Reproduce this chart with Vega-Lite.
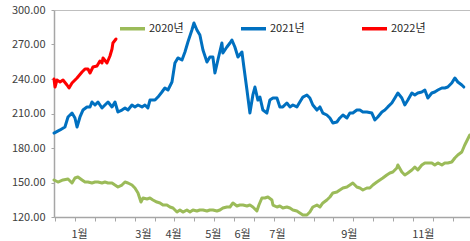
{
"$schema": "https://vega.github.io/schema/vega-lite/v6.json",
"width": 416, "height": 207,
"autosize": {"type": "none"},
"padding": {"left": 54, "top": 10, "right": 0, "bottom": 24},
"background": "white",
"config": {"view": {"stroke": null}, "font": "Noto Sans CJK KR"},
"data": {"values": [
{"s":"2020년","d":0,"v":152.2},{"s":"2020년","d":3.5,"v":150.4},{"s":"2020년","d":7.9,"v":152.2},{"s":"2020년","d":12.3,"v":153.0},{"s":"2020년","d":15.8,"v":149.6},{"s":"2020년","d":18.4,"v":153.9},{"s":"2020년","d":21.0,"v":154.8},{"s":"2020년","d":24.6,"v":152.2},{"s":"2020년","d":27.2,"v":150.4},{"s":"2020년","d":29.8,"v":150.4},{"s":"2020년","d":33.3,"v":149.6},{"s":"2020년","d":36.0,"v":150.4},{"s":"2020년","d":38.6,"v":150.4},{"s":"2020년","d":42.1,"v":149.6},{"s":"2020년","d":44.7,"v":150.4},{"s":"2020년","d":47.4,"v":149.6},{"s":"2020년","d":50.9,"v":149.6},{"s":"2020년","d":53.5,"v":147.8},{"s":"2020년","d":56.1,"v":146.1},{"s":"2020년","d":59.6,"v":147.8},{"s":"2020년","d":62.3,"v":150.4},{"s":"2020년","d":64.9,"v":149.6},{"s":"2020년","d":68.4,"v":147.8},{"s":"2020년","d":71.0,"v":145.2},{"s":"2020년","d":73.7,"v":140.9},{"s":"2020년","d":76.3,"v":133.0},{"s":"2020년","d":78.1,"v":136.5},{"s":"2020년","d":81.6,"v":135.7},{"s":"2020년","d":84.2,"v":136.5},{"s":"2020년","d":86.8,"v":134.8},{"s":"2020년","d":90.3,"v":133.0},{"s":"2020년","d":93.0,"v":132.2},{"s":"2020년","d":95.6,"v":130.4},{"s":"2020년","d":99.1,"v":130.4},{"s":"2020년","d":101.7,"v":128.7},{"s":"2020년","d":104.4,"v":127.8},{"s":"2020년","d":107.9,"v":124.3},{"s":"2020년","d":110.5,"v":126.1},{"s":"2020년","d":113.1,"v":124.3},{"s":"2020년","d":116.6,"v":126.1},{"s":"2020년","d":119.3,"v":124.3},{"s":"2020년","d":121.9,"v":126.1},{"s":"2020년","d":125.4,"v":125.2},{"s":"2020년","d":128.0,"v":126.1},{"s":"2020년","d":130.7,"v":126.1},{"s":"2020년","d":134.2,"v":125.2},{"s":"2020년","d":136.8,"v":126.1},{"s":"2020년","d":139.4,"v":126.1},{"s":"2020년","d":143.0,"v":125.2},{"s":"2020년","d":145.6,"v":126.1},{"s":"2020년","d":148.2,"v":127.8},{"s":"2020년","d":151.7,"v":128.7},{"s":"2020년","d":154.4,"v":128.7},{"s":"2020년","d":157.0,"v":132.2},{"s":"2020년","d":160.5,"v":129.6},{"s":"2020년","d":163.1,"v":130.4},{"s":"2020년","d":165.8,"v":130.4},{"s":"2020년","d":169.3,"v":129.6},{"s":"2020년","d":171.9,"v":130.4},{"s":"2020년","d":174.5,"v":128.7},{"s":"2020년","d":178.0,"v":125.2},{"s":"2020년","d":179.8,"v":130.4},{"s":"2020년","d":182.4,"v":136.5},{"s":"2020년","d":185.0,"v":136.5},{"s":"2020년","d":187.7,"v":137.4},{"s":"2020년","d":191.2,"v":134.8},{"s":"2020년","d":192.1,"v":130.4},{"s":"2020년","d":195.6,"v":128.7},{"s":"2020년","d":198.2,"v":129.6},{"s":"2020년","d":200.8,"v":127.8},{"s":"2020년","d":204.3,"v":128.7},{"s":"2020년","d":207.0,"v":127.8},{"s":"2020년","d":209.6,"v":126.1},{"s":"2020년","d":213.1,"v":125.2},{"s":"2020년","d":215.7,"v":123.5},{"s":"2020년","d":218.4,"v":121.7},{"s":"2020년","d":221.9,"v":121.7},{"s":"2020년","d":224.5,"v":124.3},{"s":"2020년","d":227.1,"v":128.7},{"s":"2020년","d":230.7,"v":130.4},{"s":"2020년","d":233.3,"v":128.7},{"s":"2020년","d":235.9,"v":132.2},{"s":"2020년","d":239.4,"v":134.8},{"s":"2020년","d":242.1,"v":137.4},{"s":"2020년","d":244.7,"v":140.9},{"s":"2020년","d":248.2,"v":141.7},{"s":"2020년","d":250.8,"v":143.5},{"s":"2020년","d":253.5,"v":145.2},{"s":"2020년","d":257.0,"v":146.1},{"s":"2020년","d":259.6,"v":147.8},{"s":"2020년","d":262.2,"v":149.6},{"s":"2020년","d":265.7,"v":146.1},{"s":"2020년","d":268.4,"v":145.2},{"s":"2020년","d":271.0,"v":143.5},{"s":"2020년","d":274.5,"v":145.2},{"s":"2020년","d":277.1,"v":145.2},{"s":"2020년","d":279.8,"v":147.8},{"s":"2020년","d":283.3,"v":150.4},{"s":"2020년","d":285.9,"v":152.2},{"s":"2020년","d":288.5,"v":153.9},{"s":"2020년","d":292.0,"v":156.5},{"s":"2020년","d":294.7,"v":158.3},{"s":"2020년","d":297.3,"v":159.1},{"s":"2020년","d":300.8,"v":162.6},{"s":"2020년","d":301.7,"v":165.2},{"s":"2020년","d":305.2,"v":159.1},{"s":"2020년","d":307.8,"v":156.5},{"s":"2020년","d":310.5,"v":158.3},{"s":"2020년","d":314.0,"v":160.9},{"s":"2020년","d":316.6,"v":163.5},{"s":"2020년","d":319.2,"v":160.9},{"s":"2020년","d":322.7,"v":165.2},{"s":"2020년","d":325.4,"v":167.0},{"s":"2020년","d":328.0,"v":167.0},{"s":"2020년","d":331.5,"v":167.0},{"s":"2020년","d":334.1,"v":165.2},{"s":"2020년","d":336.8,"v":167.0},{"s":"2020년","d":340.3,"v":165.2},{"s":"2020년","d":342.9,"v":167.0},{"s":"2020년","d":345.5,"v":167.0},{"s":"2020년","d":349.0,"v":167.8},{"s":"2020년","d":351.7,"v":171.3},{"s":"2020년","d":354.3,"v":173.9},{"s":"2020년","d":357.8,"v":176.5},{"s":"2020년","d":360.4,"v":182.6},{"s":"2020년","d":364.8,"v":191.3},
{"s":"2021년","d":0,"v":193.0},{"s":"2021년","d":5.3,"v":195.7},{"s":"2021년","d":9.6,"v":198.3},{"s":"2021년","d":12.3,"v":207.0},{"s":"2021년","d":15.8,"v":210.4},{"s":"2021년","d":18.4,"v":206.1},{"s":"2021년","d":20.2,"v":198.3},{"s":"2021년","d":22.8,"v":207.0},{"s":"2021년","d":25.4,"v":213.0},{"s":"2021년","d":28.9,"v":215.7},{"s":"2021년","d":31.6,"v":215.7},{"s":"2021년","d":33.3,"v":220.0},{"s":"2021년","d":36.0,"v":217.4},{"s":"2021년","d":38.6,"v":220.0},{"s":"2021년","d":42.1,"v":214.8},{"s":"2021년","d":44.7,"v":217.4},{"s":"2021년","d":47.4,"v":220.0},{"s":"2021년","d":50.9,"v":215.7},{"s":"2021년","d":53.5,"v":220.0},{"s":"2021년","d":56.1,"v":211.3},{"s":"2021년","d":59.6,"v":213.0},{"s":"2021년","d":62.3,"v":214.8},{"s":"2021년","d":64.9,"v":213.0},{"s":"2021년","d":68.4,"v":217.4},{"s":"2021년","d":71.0,"v":215.7},{"s":"2021년","d":73.7,"v":217.4},{"s":"2021년","d":77.2,"v":215.7},{"s":"2021년","d":79.8,"v":217.4},{"s":"2021년","d":82.4,"v":214.8},{"s":"2021년","d":84.2,"v":221.7},{"s":"2021년","d":88.6,"v":221.7},{"s":"2021년","d":91.2,"v":224.3},{"s":"2021년","d":94.7,"v":228.7},{"s":"2021년","d":97.3,"v":232.2},{"s":"2021년","d":100.0,"v":230.4},{"s":"2021년","d":103.5,"v":237.4},{"s":"2021년","d":106.1,"v":253.9},{"s":"2021년","d":108.7,"v":258.3},{"s":"2021년","d":112.3,"v":256.5},{"s":"2021년","d":114.9,"v":263.5},{"s":"2021년","d":117.5,"v":272.2},{"s":"2021년","d":121.0,"v":282.6},{"s":"2021년","d":122.8,"v":288.7},{"s":"2021년","d":125.4,"v":282.6},{"s":"2021년","d":128.0,"v":278.3},{"s":"2021년","d":130.7,"v":265.2},{"s":"2021년","d":134.2,"v":254.8},{"s":"2021년","d":136.8,"v":259.1},{"s":"2021년","d":139.4,"v":259.1},{"s":"2021년","d":141.2,"v":245.2},{"s":"2021년","d":143.8,"v":256.5},{"s":"2021년","d":147.3,"v":271.3},{"s":"2021년","d":148.2,"v":262.6},{"s":"2021년","d":151.7,"v":267.8},{"s":"2021년","d":154.4,"v":271.3},{"s":"2021년","d":156.1,"v":273.9},{"s":"2021년","d":158.7,"v":267.8},{"s":"2021년","d":161.4,"v":259.1},{"s":"2021년","d":164.9,"v":263.5},{"s":"2021년","d":166.6,"v":250.4},{"s":"2021년","d":169.3,"v":230.4},{"s":"2021년","d":171.9,"v":210.4},{"s":"2021년","d":174.5,"v":226.1},{"s":"2021년","d":176.3,"v":233.0},{"s":"2021년","d":178.9,"v":221.7},{"s":"2021년","d":180.7,"v":224.3},{"s":"2021년","d":183.3,"v":213.0},{"s":"2021년","d":186.8,"v":210.4},{"s":"2021년","d":189.4,"v":221.7},{"s":"2021년","d":192.1,"v":223.5},{"s":"2021년","d":195.6,"v":223.5},{"s":"2021년","d":198.2,"v":215.7},{"s":"2021년","d":200.8,"v":215.7},{"s":"2021년","d":204.3,"v":219.1},{"s":"2021년","d":207.0,"v":215.7},{"s":"2021년","d":209.6,"v":217.4},{"s":"2021년","d":213.1,"v":215.7},{"s":"2021년","d":215.7,"v":220.0},{"s":"2021년","d":218.4,"v":224.3},{"s":"2021년","d":221.9,"v":226.1},{"s":"2021년","d":224.5,"v":223.5},{"s":"2021년","d":227.1,"v":217.4},{"s":"2021년","d":230.7,"v":213.0},{"s":"2021년","d":233.3,"v":215.7},{"s":"2021년","d":235.9,"v":210.4},{"s":"2021년","d":239.4,"v":208.7},{"s":"2021년","d":242.1,"v":206.1},{"s":"2021년","d":244.7,"v":201.7},{"s":"2021년","d":248.2,"v":202.6},{"s":"2021년","d":250.8,"v":206.1},{"s":"2021년","d":253.5,"v":208.7},{"s":"2021년","d":257.0,"v":206.1},{"s":"2021년","d":259.6,"v":210.4},{"s":"2021년","d":262.2,"v":210.4},{"s":"2021년","d":265.7,"v":213.0},{"s":"2021년","d":268.4,"v":213.0},{"s":"2021년","d":271.0,"v":211.3},{"s":"2021년","d":274.5,"v":211.3},{"s":"2021년","d":278.9,"v":210.4},{"s":"2021년","d":281.5,"v":204.4},{"s":"2021년","d":284.1,"v":207.0},{"s":"2021년","d":287.7,"v":211.3},{"s":"2021년","d":290.3,"v":213.0},{"s":"2021년","d":292.9,"v":215.7},{"s":"2021년","d":296.4,"v":219.1},{"s":"2021년","d":299.1,"v":223.5},{"s":"2021년","d":301.7,"v":227.8},{"s":"2021년","d":305.2,"v":223.5},{"s":"2021년","d":307.8,"v":217.4},{"s":"2021년","d":310.5,"v":221.7},{"s":"2021년","d":314.0,"v":227.8},{"s":"2021년","d":316.6,"v":226.1},{"s":"2021년","d":319.2,"v":227.8},{"s":"2021년","d":322.7,"v":228.7},{"s":"2021년","d":325.4,"v":230.4},{"s":"2021년","d":328.0,"v":223.5},{"s":"2021년","d":331.5,"v":227.8},{"s":"2021년","d":334.1,"v":228.7},{"s":"2021년","d":336.8,"v":230.4},{"s":"2021년","d":340.3,"v":232.2},{"s":"2021년","d":342.9,"v":232.2},{"s":"2021년","d":345.5,"v":233.0},{"s":"2021년","d":349.0,"v":236.5},{"s":"2021년","d":351.7,"v":240.9},{"s":"2021년","d":354.3,"v":237.4},{"s":"2021년","d":357.8,"v":234.8},{"s":"2021년","d":359.6,"v":233.0},
{"s":"2022년","d":0,"v":240.0},{"s":"2022년","d":0.9,"v":233.0},{"s":"2022년","d":2.6,"v":239.1},{"s":"2022년","d":5.3,"v":237.4},{"s":"2022년","d":7.9,"v":239.1},{"s":"2022년","d":11.4,"v":234.8},{"s":"2022년","d":13.2,"v":232.2},{"s":"2022년","d":15.8,"v":236.5},{"s":"2022년","d":20.2,"v":240.9},{"s":"2022년","d":24.6,"v":246.1},{"s":"2022년","d":27.2,"v":248.7},{"s":"2022년","d":29.8,"v":248.7},{"s":"2022년","d":31.6,"v":245.2},{"s":"2022년","d":34.2,"v":250.4},{"s":"2022년","d":37.7,"v":251.3},{"s":"2022년","d":40.3,"v":255.6},{"s":"2022년","d":42.1,"v":253.9},{"s":"2022년","d":43.0,"v":258.3},{"s":"2022년","d":46.5,"v":253.9},{"s":"2022년","d":49.1,"v":260.0},{"s":"2022년","d":50.9,"v":266.1},{"s":"2022년","d":51.7,"v":271.3},{"s":"2022년","d":54.4,"v":274.8}
]},
"mark": {"type": "line", "strokeWidth": 3, "strokeJoin": "round", "strokeCap": "round"},
"encoding": {
 "x": {"field": "d", "type": "quantitative",
  "scale": {"domain": [0, 365], "nice": false, "zero": false},
  "axis": {"title": null, "grid": false,
   "values": [0.9,18.3,22,35.8,53.2,70.7,78,88.2,104.4,105.6,123,139.4,140.5,158,165,175.4,192.8,195.6,210.3,227.8,245.2,258.7,262.7,280.1,297.6,315,323.6,332.5,349.9],
   "labelExpr": "datum.value == 22 ? '1월' : datum.value == 78 ? '3월' : datum.value == 104.4 ? '4월' : datum.value == 139.4 ? '5월' : datum.value == 165 ? '6월' : datum.value == 195.6 ? '7월' : datum.value == 258.7 ? '9월' : datum.value == 323.6 ? '11월' : ''",
   "labelOverlap": false, "labelFlush": false, "labelFontSize": 11, "labelColor": "#404040", "labelPadding": 7,
   "tickSize": 4, "tickColor": "#A6A6A6",
   "tickOpacity": {"condition": {"test": "datum.value == 22 || datum.value == 78 || datum.value == 104.4 || datum.value == 139.4 || datum.value == 165 || datum.value == 195.6 || datum.value == 258.7 || datum.value == 323.6", "value": 0}, "value": 1},
   "domainColor": "#A6A6A6", "domainWidth": 1.5}},
 "y": {"field": "v", "type": "quantitative",
  "scale": {"domain": [120, 300], "nice": false, "zero": false},
  "axis": {"title": null, "values": [120,150,180,210,240,270,300], "format": ".2f",
   "labelFontSize": 11, "labelColor": "#404040", "labelPadding": 6, "labelFlush": false,
   "tickSize": 3, "tickColor": "#A6A6A6", "domainColor": "#A6A6A6", "domainWidth": 1.5,
   "grid": true, "gridColor": "#BFBFBF",
   "gridOpacity": {"condition": {"test": "datum.value == 300", "value": 1}, "value": 0}}},
 "color": {"field": "s", "type": "nominal",
  "scale": {"domain": ["2020년","2021년","2022년"], "range": ["#9BBB59","#0070C0","#FF0000"]},
  "legend": {"title": null, "orient": "none", "legendX": 64, "legendY": 4, "direction": "horizontal",
   "symbolType": "stroke", "symbolSize": 625, "symbolStrokeWidth": 3.5,
   "labelFontSize": 11, "labelColor": "#262626", "labelOffset": 2, "columnPadding": 50}}
}
}
